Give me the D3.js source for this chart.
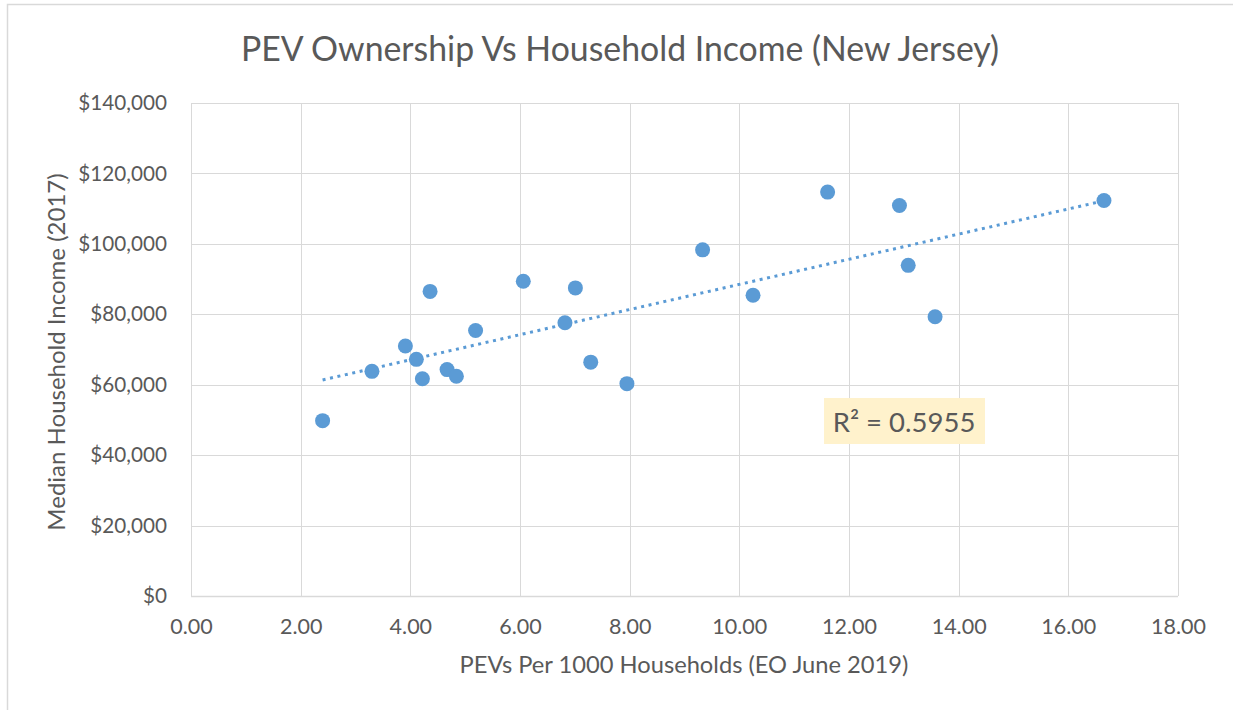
<!DOCTYPE html>
<html lang="en">
<head>
  <meta charset="UTF-8" />
  <title>PEV Ownership Vs Household Income (New Jersey)</title>
  <script src="https://d3js.org/d3.v7.min.js"></script>
  <style>
    body { margin: 0; background-color: white; }
    svg text { font-family: Lato, "Open Sans", sans-serif; fill: #595959; }
  </style>
</head>
<body>
  <div id="chart"></div>

  <script>
  // PEVs per 1000 households (x) and median household income 2017 (y)
  var pevs = [2.40, 3.30, 3.91, 4.11, 4.22, 4.36, 4.67, 4.84, 5.19, 6.06, 6.82,
              7.01, 7.29, 7.95, 9.33, 10.25, 11.61, 12.92, 13.08, 13.57, 16.65];
  var income = [49800, 63800, 71000, 67200, 61700, 86500, 64300, 62400, 75400, 89400, 77600,
                87500, 66400, 60300, 98300, 85400, 114700, 110900, 93900, 79300, 112300];

  var xTicks = [0, 2, 4, 6, 8, 10, 12, 14, 16, 18];
  var yTicks = [0, 20000, 40000, 60000, 80000, 100000, 120000, 140000];

  var chartTitle = "PEV Ownership Vs Household Income (New Jersey)";
  var xTitle = "PEVs Per 1000 Households (EO June 2019)";
  var yTitle = "Median Household Income (2017)";
  var r2Label = "R\u00b2 = 0.5955";

  var W = 1233, H = 710;
  var margin = {top: 103, right: 55, bottom: 114, left: 191},
      width = W - margin.left - margin.right,
      height = H - margin.top - margin.bottom;

  var svg = d3.select("#chart")
    .append("svg")
      .attr("width", W)
      .attr("height", H);

  // outer chart border
  svg.append("rect")
    .attr("x", 7.5).attr("y", 4.5)
    .attr("width", W).attr("height", H + 10)
    .style("fill", "white")
    .style("stroke", "#d9d9d9")
    .style("stroke-width", 1.5);

  var g = svg.append("g")
    .attr("transform", "translate(" + margin.left + "," + margin.top + ")");

  var x = d3.scaleLinear().domain([0, 18]).range([0, width]);
  var y = d3.scaleLinear().domain([0, 140000]).range([height, 0]);

  // gridlines
  g.append("g")
    .selectAll("line.vg")
    .data(xTicks)
    .enter().append("line")
      .attr("x1", function(d) { return Math.round(x(d)) + 0.5; })
      .attr("x2", function(d) { return Math.round(x(d)) + 0.5; })
      .attr("y1", 0).attr("y2", height)
      .style("stroke", "#d9d9d9");

  g.append("g")
    .selectAll("line.hg")
    .data(yTicks)
    .enter().append("line")
      .attr("x1", 0).attr("x2", width)
      .attr("y1", function(d) { return Math.round(y(d)) + 0.5; })
      .attr("y2", function(d) { return Math.round(y(d)) + 0.5; })
      .style("stroke", "#d9d9d9")
      .style("stroke-width", function(d) { return d === 0 ? 1.5 : 1; });

  // axes (labels only, Excel style)
  var xAxis = g.append("g")
    .attr("transform", "translate(0," + height + ")")
    .call(d3.axisBottom(x).tickValues(xTicks).tickFormat(d3.format(".2f")).tickSize(0).tickPadding(23));
  xAxis.select(".domain").remove();
  xAxis.selectAll("text").style("font-size", "21.5px").style("fill", "#595959").attr("font-family", null);

  var yAxis = g.append("g")
    .call(d3.axisLeft(y).tickValues(yTicks).tickFormat(d3.format("$,")).tickSize(0).tickPadding(24));
  yAxis.select(".domain").remove();
  yAxis.selectAll("text").style("font-size", "20.7px").style("fill", "#595959").attr("font-family", null);

  // linear trendline from the data
  var mx = d3.mean(pevs),
      my = d3.mean(income);
  var sxy = d3.sum(pevs, function(v, i) { return (v - mx) * (income[i] - my); }),
      sxx = d3.sum(pevs, function(v) { return (v - mx) * (v - mx); });
  var slope = sxy / sxx, icpt = my - slope * mx;
  var x0 = d3.min(pevs), x1 = d3.max(pevs);

  g.append("line")
    .attr("x1", x(x0)).attr("y1", y(icpt + slope * x0))
    .attr("x2", x(x1)).attr("y2", y(icpt + slope * x1))
    .style("stroke", "#5b9bd5")
    .style("stroke-width", 3)
    .style("stroke-dasharray", "3 4.6");

  // points
  g.append("g")
    .selectAll("circle")
    .data(pevs)
    .enter().append("circle")
      .attr("cx", function(d) { return x(d); })
      .attr("cy", function(d, i) { return y(income[i]); })
      .attr("r", 7.5)
      .style("fill", "#5b9bd5");

  // R squared label
  g.append("rect")
    .attr("x", 633).attr("y", 295)
    .attr("width", 161).attr("height", 46)
    .style("fill", "#fff2cc");
  g.append("text")
    .attr("x", 713).attr("y", 329)
    .attr("text-anchor", "middle")
    .style("font-size", "27.5px")
    .text(r2Label);

  // titles
  svg.append("text")
    .attr("x", 620).attr("y", 61)
    .attr("text-anchor", "middle")
    .style("font-size", "33.8px")
    .text(chartTitle);

  svg.append("text")
    .attr("x", 684).attr("y", 673)
    .attr("text-anchor", "middle")
    .style("font-size", "23.7px")
    .text(xTitle);

  svg.append("text")
    .attr("transform", "translate(65," + 352 + ") rotate(-90)")
    .attr("text-anchor", "middle")
    .style("font-size", "24px")
    .text(yTitle);
  </script>
</body>
</html>
